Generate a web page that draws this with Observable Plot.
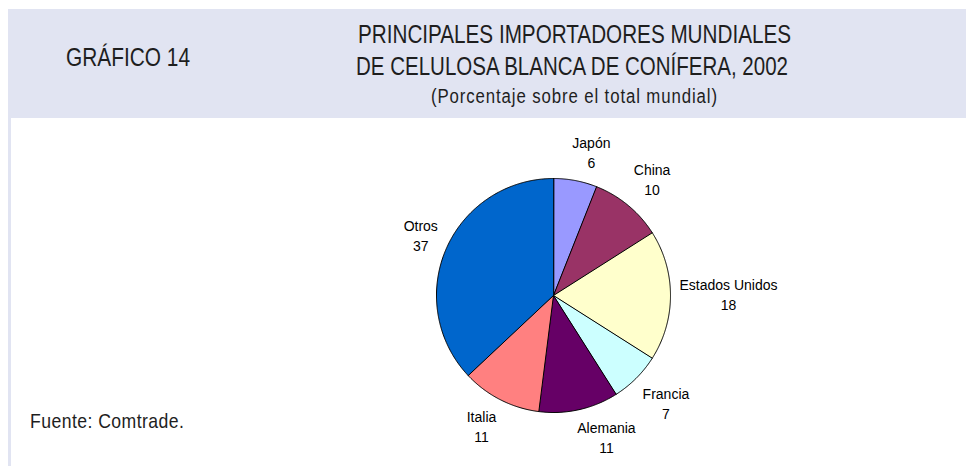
<!DOCTYPE html>
<html>
<head>
<meta charset="utf-8">
<script src="https://cdn.jsdelivr.net/npm/d3@7"></script>
<script src="https://cdn.jsdelivr.net/npm/@observablehq/plot@0.6"></script>
<style>
  html, body { margin: 0; padding: 0; background: #fff; }
  #page { position: relative; width: 966px; height: 466px; overflow: hidden; background: #fff; }
  .txt { position: absolute; white-space: nowrap; color: #1e1e1e; }
</style>
</head>
<body>
<div id="page"></div>
<script>
// ---- data ----
const countries = ["Japón", "China", "Estados Unidos", "Francia", "Alemania", "Italia", "Otros"];
const shares = [6, 10, 18, 7, 11, 11, 37];
const colors = ["#9999ff", "#993366", "#ffffcc", "#ccffff", "#660066", "#ff8080", "#0066cc"];
const chartLabel = "GRÁFICO 14";
const titleLines = ["PRINCIPALES IMPORTADORES MUNDIALES", "DE CELULOSA BLANCA DE CONÍFERA, 2002"];
const subtitle = "(Porcentaje sobre el total mundial)";
const source = "Fuente: Comtrade.";

const page = document.getElementById("page");

// header band and left rule
const band = document.createElement("div");
Object.assign(band.style, {position: "absolute", left: "8px", top: "9px", width: "958px", height: "109px", background: "#e1e4f2"});
page.appendChild(band);
const rule = document.createElement("div");
Object.assign(rule.style, {position: "absolute", left: "8px", top: "118px", width: "3px", height: "348px", background: "#e1e4f2"});
page.appendChild(rule);

const cv = document.createElement("canvas").getContext("2d");
function mw(font, s) { cv.font = font; return cv.measureText(s).width; }
const hasNarrow = Math.abs(mw('25px "Liberation Sans Narrow", monospace', "PRINCIPALES") - mw("25px monospace", "PRINCIPALES")) > 1;
const narrowFam = hasNarrow ? '"Liberation Sans Narrow", "Liberation Sans", Arial, sans-serif' : '"Liberation Sans", Arial, sans-serif';
const condense = hasNarrow ? 1 : 0.84;

function placeText(text, o) {
  const d = document.createElement("div");
  d.className = "txt";
  d.textContent = text;
  d.style.fontFamily = narrowFam;
  d.style.fontSize = o.size + "px";
  d.style.lineHeight = o.size + "px";
  d.style.top = (o.baseline - 0.8465 * o.size) + "px";
  d.style.left = "0px";
  page.appendChild(d);
  const w = d.getBoundingClientRect().width;
  d.style.transformOrigin = "0 0";
  if (o.mode === "scale") {
    d.style.transform = `scaleX(${o.width / w})`;
  } else {
    // condensed glyphs, spaced out to the target width
    const ls = (o.width / condense - w) / (text.length - 1);
    d.style.letterSpacing = ls + "px";
    d.style.transform = `scaleX(${condense})`;
  }
  const left = o.center != null ? o.center - o.width / 2 : o.left;
  d.style.left = left + "px";
}

placeText(chartLabel, {left: 66, width: 124, baseline: 66, size: 25, mode: "scale"});
placeText(titleLines[0], {center: 574, width: 433, baseline: 43.5, size: 25, mode: "scale"});
placeText(titleLines[1], {center: 572, width: 432, baseline: 75, size: 25, mode: "scale"});
placeText(subtitle, {center: 573.5, width: 286, baseline: 102.5, size: 20, mode: "spacing"});
placeText(source, {left: 30, width: 154, baseline: 427.5, size: 21, mode: "spacing"});

// ---- pie geometry via Plot scales ----
const W = 966, H = 348, cx = 553, cy = 177, r = 117;
const total = d3.sum(shares);
const pts = [];
const labels = [];
let acc = 0;
const labelFont = '14px "Liberation Sans", Arial, sans-serif';
countries.forEach((c, i) => {
  const a0 = acc / total * 2 * Math.PI;
  acc += shares[i];
  const a1 = acc / total * 2 * Math.PI;
  pts.push({name: c, x: 0, y: 0});
  const n = Math.max(2, Math.ceil((a1 - a0) / (Math.PI / 360)));
  for (let k = 0; k <= n; k++) {
    const a = a0 + (a1 - a0) * k / n;
    pts.push({name: c, x: Math.sin(a), y: -Math.cos(a)});
  }
  const m = (a0 + a1) / 2;
  const dx = Math.sin(m), dy = -Math.cos(m);
  const halfW = Math.max(mw(labelFont, c), mw(labelFont, String(shares[i]))) / 2;
  const halfH = 20;
  const R = r + 9;
  const px = R * dx + halfW * Math.sign(dx) * Math.min(1, Math.abs(dx) * 4);
  const py = R * dy + halfH * Math.sign(dy) * Math.min(1, Math.abs(dy) * 1.4) - (dy > 0 ? 2 : 0);
  labels.push({name: c, value: shares[i], x: px / r, y: py / r});
});

const chart = Plot.plot({
  width: W,
  height: H,
  margin: 0,
  x: {domain: [-1, 1], range: [cx - r, cx + r], axis: null},
  y: {domain: [-1, 1], range: [cy - r, cy + r], axis: null},
  color: {type: "ordinal", domain: countries, range: colors},
  style: {background: "transparent"},
  marks: [
    Plot.line(pts, {x: "x", y: "y", z: "name", fill: "name", stroke: "#000", strokeWidth: 1, curve: "linear-closed"}),
    Plot.text(labels, {x: "x", y: "y", text: d => `${d.name}\n${d.value}`, fontSize: 14, lineHeight: 20 / 14, lineAnchor: "middle", fontFamily: '"Liberation Sans", Arial, sans-serif', fill: "#000"})
  ]
});
Object.assign(chart.style, {position: "absolute", left: "0px", top: "118px"});
page.appendChild(chart);
</script>
</body>
</html>
